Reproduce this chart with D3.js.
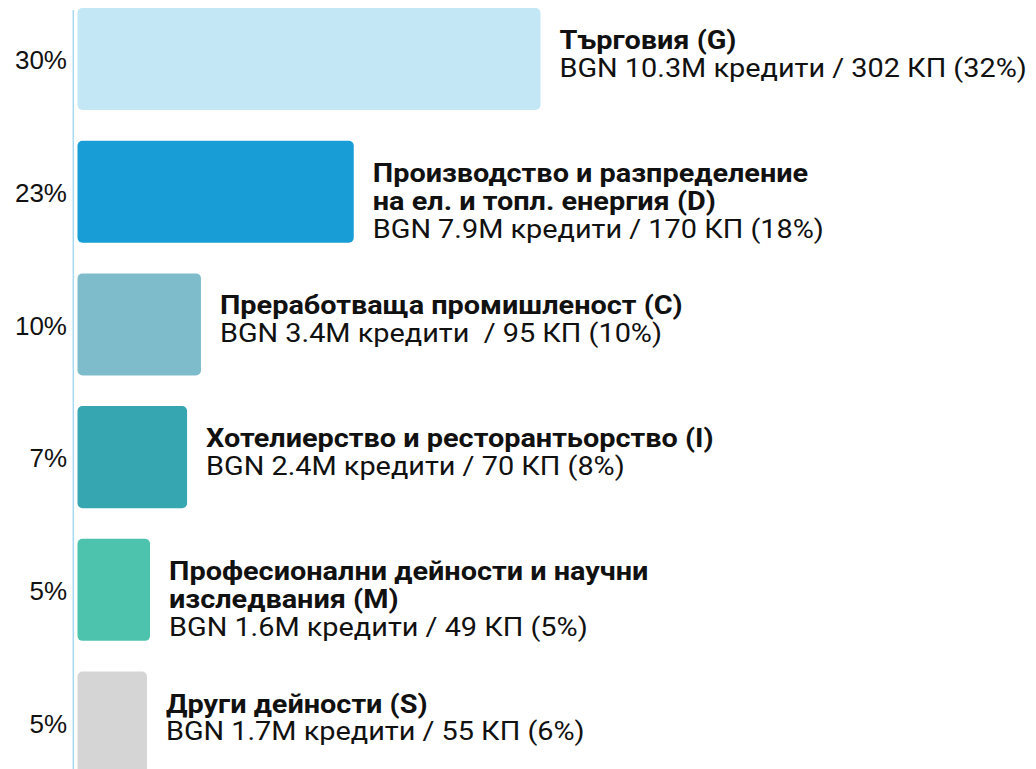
<!DOCTYPE html>
<html>
<head>
<meta charset="utf-8">
<script src="https://cdn.jsdelivr.net/npm/d3@7"></script>
<style>
  html, body { margin: 0; padding: 0; background: #fff; }
  svg { display: block; }
  .pct { font-family: "Liberation Sans", Arial, sans-serif; font-size: 26px; fill: #111; }
  .lbl { font-family: Roboto, "Noto Sans", sans-serif; font-size: 26px; fill: #111; white-space: pre; }
  .lbl .title { font-weight: 700; }
</style>
</head>
<body>
<svg id="chart" width="1036" height="769"></svg>
<script>
// sector codes, top to bottom
var sectors = ['G', 'D', 'C', 'I', 'M', 'S'];
// share labels on the left
var shareLabels = ['30%', '23%', '10%', '7%', '5%', '5%'];
// bar lengths as drawn (percent units)
var barValues = [30, 17.9, 8.0, 7.1, 4.7, 4.5];
var titles = [
  ['Търговия (G)'],
  ['Производство и разпределение', 'на ел. и топл. енергия (D)'],
  ['Преработваща промишленост (C)'],
  ['Хотелиерство и ресторантьорство (I)'],
  ['Професионални дейности и научни', 'изследвания (M)'],
  ['Други дейности (S)']
];
var details = [
  'BGN 10.3M кредити / 302 КП (32%)',
  'BGN 7.9M кредити / 170 КП (18%)',
  'BGN 3.4M кредити  / 95 КП (10%)',
  'BGN 2.4M кредити / 70 КП (8%)',
  'BGN 1.6M кредити / 49 КП (5%)',
  'BGN 1.7M кредити / 55 КП (6%)'
];
var colors = ['#c3e7f5', '#189dd6', '#7fbccb', '#36a6b0', '#4dc3ae', '#d5d5d5'];

var svg = d3.select('#chart');
var x0 = 77.5;
var step = 132.7;

var x = d3.scaleLinear().domain([0, 30]).range([0, 463]);
var y = d3.scaleBand()
  .domain(sectors)
  .range([8, 8 + step * (sectors.length - 0.231)])
  .paddingInner(0.231)
  .paddingOuter(0);

// left axis line
svg.append('line')
  .attr('x1', 73.3).attr('x2', 73.3)
  .attr('y1', 10).attr('y2', 769)
  .attr('stroke', '#a8d9f0')
  .attr('stroke-width', 1.5);

var rows = svg.selectAll('g.row')
  .data(sectors)
  .enter().append('g')
  .attr('class', 'row');

rows.append('rect')
  .attr('x', x0)
  .attr('y', function (d) { return y(d); })
  .attr('width', function (d, i) { return x(barValues[i]); })
  .attr('height', y.bandwidth())
  .attr('rx', 5)
  .attr('fill', function (d, i) { return colors[i]; });

rows.append('text')
  .attr('class', 'pct')
  .attr('x', 67)
  .attr('y', function (d) { return y(d) + y.bandwidth() / 2 + 1; })
  .attr('dy', '0.35em')
  .attr('text-anchor', 'end')
  .text(function (d, i) { return shareLabels[i]; });

// labels are drawn a bit wider than the font, like the original
var lbl = rows.append('text')
  .attr('class', 'lbl')
  .attr('transform', function (d, i) {
    return 'translate(' + (x0 + x(barValues[i]) + 19) + ',' + (y(d) + 41) + ') scale(1.11,1)';
  });

lbl.each(function (d, i) {
  var t = d3.select(this);
  var lines = titles[i];
  lines.forEach(function (s, j) {
    t.append('tspan').attr('class', 'title').attr('x', 0).attr('y', j * 28).text(s);
  });
  t.append('tspan').attr('x', 0).attr('y', lines.length * 28).text(details[i]);
});
</script>
</body>
</html>
